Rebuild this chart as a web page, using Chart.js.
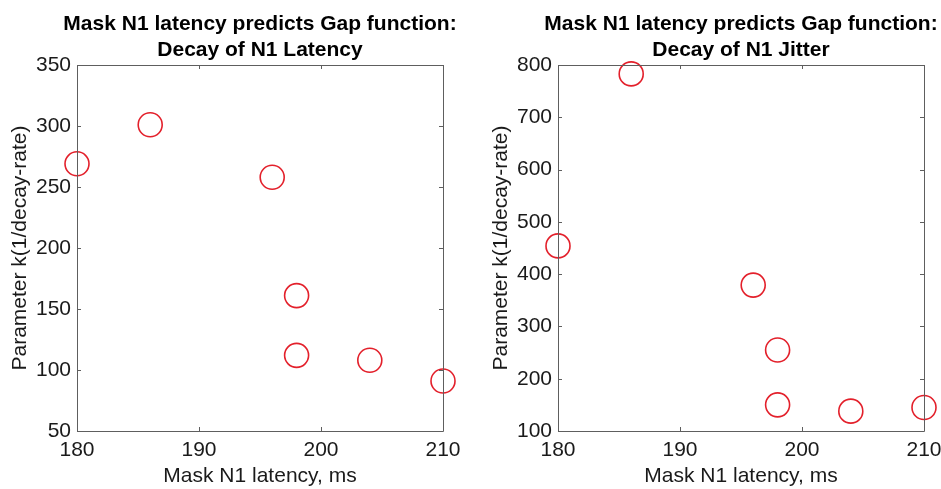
<!DOCTYPE html>
<html>
<head>
<meta charset="utf-8">
<script src="https://cdn.jsdelivr.net/npm/chart.js@4"></script>
<style>
  body { margin: 0; background: #fff; width: 941px; height: 489px; overflow: hidden; position: relative; }
  .box { position: absolute; top: 0; width: 470px; height: 489px; }
</style>
</head>
<body>
<div class="box" style="left:0"><canvas id="latencyChart"></canvas></div>
<div class="box" style="left:481px"><canvas id="jitterChart"></canvas></div>
<script>
// mask N1 latency (ms) for each subject
const maskLatency = [180, 186, 196, 198, 198, 204, 210];
// fitted k for decay of N1 latency
const kLatency = [269, 301, 258, 161, 112, 108, 91];
// mask latency for the jitter panel
const maskLatencyJ = [180, 186, 196, 198, 198, 204, 210];
// fitted k for decay of N1 jitter
const kJitter = [454, 783, 379, 255, 150, 138, 145];

const xTicks = [180, 190, 200, 210];
const yTicksLatency = [50, 100, 150, 200, 250, 300, 350];
const yTicksJitter = [100, 200, 300, 400, 500, 600, 700, 800];

const titleLatency = ["Mask N1 latency predicts Gap function:", "Decay of N1 Latency"];
const titleJitter = ["Mask N1 latency predicts Gap function:", "Decay of N1 Jitter"];

const xLabel = "Mask N1 latency, ms";
const yLabel = "Parameter k(1/decay-rate)";

const FONT = "'Liberation Sans', Arial, Helvetica, sans-serif";

// matlab style box with inward ticks + title over the plot area
const matlabBox = {
    id: "matlabBox",
    afterDraw(chart) {
        const ctx = chart.ctx;
        const a = chart.chartArea;
        const xs = chart.scales.x, ys = chart.scales.y;
        ctx.save();
        ctx.strokeStyle = "#5e5e5e";
        ctx.lineWidth = 1;
        ctx.beginPath();
        ctx.rect(Math.round(a.left) + 0.5, Math.round(a.top) + 0.5, Math.round(a.right - a.left), Math.round(a.bottom - a.top));
        xs.ticks.forEach(t => {
            const px = Math.round(xs.getPixelForValue(t.value)) + 0.5;
            ctx.moveTo(px, a.bottom); ctx.lineTo(px, a.bottom - 4);
            ctx.moveTo(px, a.top); ctx.lineTo(px, a.top + 4);
        });
        ys.ticks.forEach(t => {
            const py = Math.round(ys.getPixelForValue(t.value)) + 0.5;
            ctx.moveTo(a.left, py); ctx.lineTo(a.left + 4, py);
            ctx.moveTo(a.right, py); ctx.lineTo(a.right - 4, py);
        });
        ctx.stroke();

        const lines = chart.options.plugins.matlabBox.title;
        ctx.fillStyle = "#000";
        ctx.font = "bold 21px " + FONT;
        ctx.textAlign = "center";
        ctx.textBaseline = "middle";
        const cx = (a.left + a.right) / 2;
        lines.forEach((l, i) => ctx.fillText(l, cx, 24 + i * 26));
        ctx.restore();
    }
};

function makeChart(id, xs, ys, yTicks, title) {
    const ctx = document.getElementById(id).getContext("2d");
    return new Chart(ctx, {
        type: "scatter",
        data: {
            datasets: [{
                data: xs.map((x, i) => ({ x: x, y: ys[i] })),
                pointStyle: "circle",
                pointRadius: 12,
                pointHoverRadius: 12,
                borderColor: "#e3202b",
                borderWidth: 1.6,
                backgroundColor: "rgba(0,0,0,0)",
                clip: false
            }]
        },
        options: {
            responsive: true,
            maintainAspectRatio: false,
            animation: false,
            events: [],
            layout: { padding: { top: 65, right: 27, left: 0, bottom: 0 } },
            plugins: {
                legend: { display: false },
                tooltip: { enabled: false },
                matlabBox: { title: title }
            },
            scales: {
                x: {
                    type: "linear",
                    min: xTicks[0],
                    max: xTicks[xTicks.length - 1],
                    afterBuildTicks: s => { s.ticks = xTicks.map(v => ({ value: v })); },
                    afterFit: s => { s.height = 58; },
                    grid: { display: false, drawTicks: false },
                    border: { display: false },
                    ticks: { color: "#1a1a1a", font: { family: FONT, size: 21 }, padding: 7, maxRotation: 0 },
                    title: { display: true, text: xLabel, color: "#1a1a1a", font: { family: FONT, size: 21 }, padding: 0 }
                },
                y: {
                    type: "linear",
                    min: yTicks[0],
                    max: yTicks[yTicks.length - 1],
                    afterBuildTicks: s => { s.ticks = yTicks.map(v => ({ value: v })); },
                    afterFit: s => { s.width = 77; },
                    grid: { display: false, drawTicks: false },
                    border: { display: false },
                    ticks: { color: "#1a1a1a", font: { family: FONT, size: 21 }, padding: 6 },
                    title: { display: true, text: yLabel, color: "#1a1a1a", font: { family: FONT, size: 21 }, padding: { top: 8, bottom: 0 } }
                }
            }
        },
        plugins: [matlabBox]
    });
}

makeChart("latencyChart", maskLatency, kLatency, yTicksLatency, titleLatency);
makeChart("jitterChart", maskLatencyJ, kJitter, yTicksJitter, titleJitter);
</script>
</body>
</html>
